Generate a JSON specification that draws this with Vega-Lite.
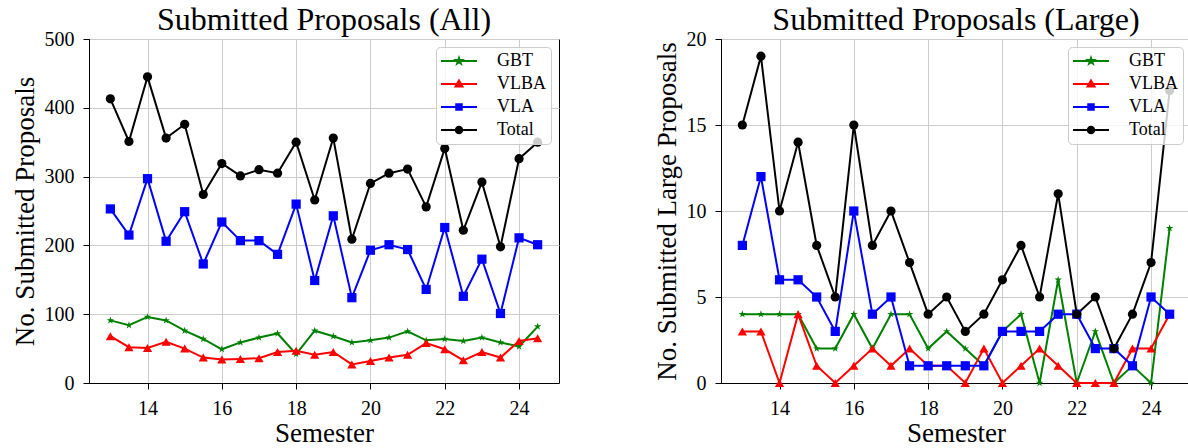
{
  "$schema": "https://vega.github.io/schema/vega-lite/v6.json",
  "background": "white",
  "padding": {"left": 10, "top": 3, "right": 0, "bottom": 0},
  "spacing": 162,
  "bounds": "flush",
  "datasets": {
    "all": [
      {"semester":13,"series":"GBT","count":91},{"semester":13.5,"series":"GBT","count":84},{"semester":14,"series":"GBT","count":96},{"semester":14.5,"series":"GBT","count":91},{"semester":15,"series":"GBT","count":76},{"semester":15.5,"series":"GBT","count":64},{"semester":16,"series":"GBT","count":49},{"semester":16.5,"series":"GBT","count":59},{"semester":17,"series":"GBT","count":66},{"semester":17.5,"series":"GBT","count":72},{"semester":18,"series":"GBT","count":42},{"semester":18.5,"series":"GBT","count":76},{"semester":19,"series":"GBT","count":68},{"semester":19.5,"series":"GBT","count":59},{"semester":20,"series":"GBT","count":62},{"semester":20.5,"series":"GBT","count":66},{"semester":21,"series":"GBT","count":75},{"semester":21.5,"series":"GBT","count":62},{"semester":22,"series":"GBT","count":64},{"semester":22.5,"series":"GBT","count":61},{"semester":23,"series":"GBT","count":66},{"semester":23.5,"series":"GBT","count":59},{"semester":24,"series":"GBT","count":53},{"semester":24.5,"series":"GBT","count":82},
      {"semester":13,"series":"VLBA","count":68},{"semester":13.5,"series":"VLBA","count":52},{"semester":14,"series":"VLBA","count":51},{"semester":14.5,"series":"VLBA","count":60},{"semester":15,"series":"VLBA","count":50},{"semester":15.5,"series":"VLBA","count":37},{"semester":16,"series":"VLBA","count":34},{"semester":16.5,"series":"VLBA","count":35},{"semester":17,"series":"VLBA","count":36},{"semester":17.5,"series":"VLBA","count":45},{"semester":18,"series":"VLBA","count":47},{"semester":18.5,"series":"VLBA","count":41},{"semester":19,"series":"VLBA","count":45},{"semester":19.5,"series":"VLBA","count":27},{"semester":20,"series":"VLBA","count":32},{"semester":20.5,"series":"VLBA","count":37},{"semester":21,"series":"VLBA","count":41},{"semester":21.5,"series":"VLBA","count":58},{"semester":22,"series":"VLBA","count":49},{"semester":22.5,"series":"VLBA","count":33},{"semester":23,"series":"VLBA","count":45},{"semester":23.5,"series":"VLBA","count":37},{"semester":24,"series":"VLBA","count":61},{"semester":24.5,"series":"VLBA","count":65},
      {"semester":13,"series":"VLA","count":253},{"semester":13.5,"series":"VLA","count":215},{"semester":14,"series":"VLA","count":297},{"semester":14.5,"series":"VLA","count":206},{"semester":15,"series":"VLA","count":249},{"semester":15.5,"series":"VLA","count":173},{"semester":16,"series":"VLA","count":234},{"semester":16.5,"series":"VLA","count":207},{"semester":17,"series":"VLA","count":207},{"semester":17.5,"series":"VLA","count":187},{"semester":18,"series":"VLA","count":260},{"semester":18.5,"series":"VLA","count":149},{"semester":19,"series":"VLA","count":243},{"semester":19.5,"series":"VLA","count":124},{"semester":20,"series":"VLA","count":193},{"semester":20.5,"series":"VLA","count":201},{"semester":21,"series":"VLA","count":194},{"semester":21.5,"series":"VLA","count":136},{"semester":22,"series":"VLA","count":226},{"semester":22.5,"series":"VLA","count":126},{"semester":23,"series":"VLA","count":180},{"semester":23.5,"series":"VLA","count":101},{"semester":24,"series":"VLA","count":211},{"semester":24.5,"series":"VLA","count":201},
      {"semester":13,"series":"Total","count":413},{"semester":13.5,"series":"Total","count":351},{"semester":14,"series":"Total","count":445},{"semester":14.5,"series":"Total","count":356},{"semester":15,"series":"Total","count":376},{"semester":15.5,"series":"Total","count":274},{"semester":16,"series":"Total","count":319},{"semester":16.5,"series":"Total","count":301},{"semester":17,"series":"Total","count":310},{"semester":17.5,"series":"Total","count":305},{"semester":18,"series":"Total","count":350},{"semester":18.5,"series":"Total","count":266},{"semester":19,"series":"Total","count":356},{"semester":19.5,"series":"Total","count":209},{"semester":20,"series":"Total","count":290},{"semester":20.5,"series":"Total","count":305},{"semester":21,"series":"Total","count":311},{"semester":21.5,"series":"Total","count":256},{"semester":22,"series":"Total","count":341},{"semester":22.5,"series":"Total","count":222},{"semester":23,"series":"Total","count":292},{"semester":23.5,"series":"Total","count":198},{"semester":24,"series":"Total","count":326},{"semester":24.5,"series":"Total","count":350}
    ],
    "large": [
      {"semester":13,"series":"GBT","count":4},{"semester":13.5,"series":"GBT","count":4},{"semester":14,"series":"GBT","count":4},{"semester":14.5,"series":"GBT","count":4},{"semester":15,"series":"GBT","count":2},{"semester":15.5,"series":"GBT","count":2},{"semester":16,"series":"GBT","count":4},{"semester":16.5,"series":"GBT","count":2},{"semester":17,"series":"GBT","count":4},{"semester":17.5,"series":"GBT","count":4},{"semester":18,"series":"GBT","count":2},{"semester":18.5,"series":"GBT","count":3},{"semester":19,"series":"GBT","count":2},{"semester":19.5,"series":"GBT","count":1},{"semester":20,"series":"GBT","count":3},{"semester":20.5,"series":"GBT","count":4},{"semester":21,"series":"GBT","count":0},{"semester":21.5,"series":"GBT","count":6},{"semester":22,"series":"GBT","count":0},{"semester":22.5,"series":"GBT","count":3},{"semester":23,"series":"GBT","count":0},{"semester":23.5,"series":"GBT","count":1},{"semester":24,"series":"GBT","count":0},{"semester":24.5,"series":"GBT","count":9},
      {"semester":13,"series":"VLBA","count":3},{"semester":13.5,"series":"VLBA","count":3},{"semester":14,"series":"VLBA","count":0},{"semester":14.5,"series":"VLBA","count":4},{"semester":15,"series":"VLBA","count":1},{"semester":15.5,"series":"VLBA","count":0},{"semester":16,"series":"VLBA","count":1},{"semester":16.5,"series":"VLBA","count":2},{"semester":17,"series":"VLBA","count":1},{"semester":17.5,"series":"VLBA","count":2},{"semester":18,"series":"VLBA","count":1},{"semester":18.5,"series":"VLBA","count":1},{"semester":19,"series":"VLBA","count":0},{"semester":19.5,"series":"VLBA","count":2},{"semester":20,"series":"VLBA","count":0},{"semester":20.5,"series":"VLBA","count":1},{"semester":21,"series":"VLBA","count":2},{"semester":21.5,"series":"VLBA","count":1},{"semester":22,"series":"VLBA","count":0},{"semester":22.5,"series":"VLBA","count":0},{"semester":23,"series":"VLBA","count":0},{"semester":23.5,"series":"VLBA","count":2},{"semester":24,"series":"VLBA","count":2},{"semester":24.5,"series":"VLBA","count":4},
      {"semester":13,"series":"VLA","count":8},{"semester":13.5,"series":"VLA","count":12},{"semester":14,"series":"VLA","count":6},{"semester":14.5,"series":"VLA","count":6},{"semester":15,"series":"VLA","count":5},{"semester":15.5,"series":"VLA","count":3},{"semester":16,"series":"VLA","count":10},{"semester":16.5,"series":"VLA","count":4},{"semester":17,"series":"VLA","count":5},{"semester":17.5,"series":"VLA","count":1},{"semester":18,"series":"VLA","count":1},{"semester":18.5,"series":"VLA","count":1},{"semester":19,"series":"VLA","count":1},{"semester":19.5,"series":"VLA","count":1},{"semester":20,"series":"VLA","count":3},{"semester":20.5,"series":"VLA","count":3},{"semester":21,"series":"VLA","count":3},{"semester":21.5,"series":"VLA","count":4},{"semester":22,"series":"VLA","count":4},{"semester":22.5,"series":"VLA","count":2},{"semester":23,"series":"VLA","count":2},{"semester":23.5,"series":"VLA","count":1},{"semester":24,"series":"VLA","count":5},{"semester":24.5,"series":"VLA","count":4},
      {"semester":13,"series":"Total","count":15},{"semester":13.5,"series":"Total","count":19},{"semester":14,"series":"Total","count":10},{"semester":14.5,"series":"Total","count":14},{"semester":15,"series":"Total","count":8},{"semester":15.5,"series":"Total","count":5},{"semester":16,"series":"Total","count":15},{"semester":16.5,"series":"Total","count":8},{"semester":17,"series":"Total","count":10},{"semester":17.5,"series":"Total","count":7},{"semester":18,"series":"Total","count":4},{"semester":18.5,"series":"Total","count":5},{"semester":19,"series":"Total","count":3},{"semester":19.5,"series":"Total","count":4},{"semester":20,"series":"Total","count":6},{"semester":20.5,"series":"Total","count":8},{"semester":21,"series":"Total","count":5},{"semester":21.5,"series":"Total","count":11},{"semester":22,"series":"Total","count":4},{"semester":22.5,"series":"Total","count":5},{"semester":23,"series":"Total","count":2},{"semester":23.5,"series":"Total","count":4},{"semester":24,"series":"Total","count":7},{"semester":24.5,"series":"Total","count":17}
    ]
  },
  "hconcat": [
    {
      "data": {"name": "all"},
      "width": 470,
      "height": 344,
      "title": {"text": "Submitted Proposals (All)"},
      "encoding": {
        "x": {"field": "semester", "type": "quantitative", "scale": {"domain": [12.425, 25.075], "nice": false, "zero": false}, "axis": {"values": [14, 16, 18, 20, 22, 24], "title": "Semester"}},
        "y": {"field": "count", "type": "quantitative", "scale": {"domain": [0, 500], "nice": false}, "axis": {"values": [0, 100, 200, 300, 400, 500], "title": "No. Submitted Proposals"}},
        "color": {"field": "series", "type": "nominal", "scale": {"domain": ["GBT", "VLBA", "VLA", "Total"], "range": ["#008000", "#ff0000", "#0000ff", "#000000"]},
          "legend": {"title": null, "orient": "top-right", "offset": 8, "padding": 5, "cornerRadius": 4, "strokeColor": "#cccccc", "fillColor": "rgba(255,255,255,0.8)", "symbolSize": 100, "symbolOffset": 9, "labelOffset": 29, "rowPadding": 5, "labelFont": "Liberation Serif", "labelFontSize": 18, "labelColor": "#000000",
            "encode": {"symbols": {"update": {
              "shape": {"signal": "datum.value==='GBT'?'M-3.6,0H3.6M0,-0.6L0.135,-0.186L0.571,-0.185L0.218,0.071L0.353,0.485L0,0.23L-0.353,0.485L-0.218,0.071L-0.571,-0.185L-0.135,-0.186Z':datum.value==='VLBA'?'M-3.6,0H3.6M0,-0.7L0.7,0.5L-0.7,0.5Z':datum.value==='VLA'?'M-3.6,0H3.6M-0.55,-0.55H0.55V0.55H-0.55Z':'M-3.6,0H3.6M-0.65,0A0.65,0.65,0,1,0,0.65,0A0.65,0.65,0,1,0,-0.65,0Z'"},
              "fill": {"signal": "datum.value==='GBT'?'#008000':datum.value==='VLBA'?'#ff0000':datum.value==='VLA'?'#0000ff':'#000000'"},
              "stroke": {"signal": "datum.value==='GBT'?'#008000':datum.value==='VLBA'?'#ff0000':datum.value==='VLA'?'#0000ff':'#000000'"},
              "strokeWidth": {"value": 2},
              "opacity": {"value": 1}
            }}}
          }}
      },
      "layer": [
        {"mark": {"type": "line", "strokeWidth": 2}},
        {"mark": {"type": "point", "filled": true, "size": 85, "opacity": 1},
         "encoding": {"shape": {"field": "series", "type": "nominal",
           "scale": {"domain": ["Total", "VLA", "VLBA", "GBT"], "range": ["circle", "square", "triangle-up", "M0,-0.85L0.191,-0.263L0.808,-0.263L0.309,0.1L0.5,0.688L0,0.325L-0.5,0.688L-0.309,0.1L-0.808,-0.263L-0.191,-0.263Z"]},
           "legend": null}}
        }
      ]
    },
    {
      "data": {"name": "large"},
      "width": 470,
      "height": 344,
      "title": {"text": "Submitted Proposals (Large)"},
      "encoding": {
        "x": {"field": "semester", "type": "quantitative", "scale": {"domain": [12.425, 25.075], "nice": false, "zero": false}, "axis": {"values": [14, 16, 18, 20, 22, 24], "title": "Semester"}},
        "y": {"field": "count", "type": "quantitative", "scale": {"domain": [0, 20], "nice": false}, "axis": {"values": [0, 5, 10, 15, 20], "title": "No. Submitted Large Proposals"}},
        "color": {"field": "series", "type": "nominal", "scale": {"domain": ["GBT", "VLBA", "VLA", "Total"], "range": ["#008000", "#ff0000", "#0000ff", "#000000"]},
          "legend": {"title": null, "orient": "top-right", "offset": 8, "padding": 5, "cornerRadius": 4, "strokeColor": "#cccccc", "fillColor": "rgba(255,255,255,0.8)", "symbolSize": 100, "symbolOffset": 9, "labelOffset": 29, "rowPadding": 5, "labelFont": "Liberation Serif", "labelFontSize": 18, "labelColor": "#000000",
            "encode": {"symbols": {"update": {
              "shape": {"signal": "datum.value==='GBT'?'M-3.6,0H3.6M0,-0.6L0.135,-0.186L0.571,-0.185L0.218,0.071L0.353,0.485L0,0.23L-0.353,0.485L-0.218,0.071L-0.571,-0.185L-0.135,-0.186Z':datum.value==='VLBA'?'M-3.6,0H3.6M0,-0.7L0.7,0.5L-0.7,0.5Z':datum.value==='VLA'?'M-3.6,0H3.6M-0.55,-0.55H0.55V0.55H-0.55Z':'M-3.6,0H3.6M-0.65,0A0.65,0.65,0,1,0,0.65,0A0.65,0.65,0,1,0,-0.65,0Z'"},
              "fill": {"signal": "datum.value==='GBT'?'#008000':datum.value==='VLBA'?'#ff0000':datum.value==='VLA'?'#0000ff':'#000000'"},
              "stroke": {"signal": "datum.value==='GBT'?'#008000':datum.value==='VLBA'?'#ff0000':datum.value==='VLA'?'#0000ff':'#000000'"},
              "strokeWidth": {"value": 2},
              "opacity": {"value": 1}
            }}}
          }}
      },
      "layer": [
        {"mark": {"type": "line", "strokeWidth": 2}},
        {"mark": {"type": "point", "filled": true, "size": 85, "opacity": 1},
         "encoding": {"shape": {"field": "series", "type": "nominal",
           "scale": {"domain": ["Total", "VLA", "VLBA", "GBT"], "range": ["circle", "square", "triangle-up", "M0,-0.85L0.191,-0.263L0.808,-0.263L0.309,0.1L0.5,0.688L0,0.325L-0.5,0.688L-0.309,0.1L-0.808,-0.263L-0.191,-0.263Z"]},
           "legend": null}}
        }
      ]
    }
  ],
  "resolve": {"scale": {"color": "independent", "shape": "independent", "x": "independent", "y": "independent"}},
  "config": {
    "view": {"stroke": "#000000", "strokeWidth": 1},
    "title": {"font": "Liberation Serif", "fontSize": 32, "fontWeight": "normal", "color": "#000000", "offset": -8, "anchor": "middle"},
    "axis": {"labelFont": "Liberation Serif", "labelFontSize": 20, "labelColor": "#000000", "titleFont": "Liberation Serif", "titleFontSize": 27, "titleFontWeight": "normal", "titleColor": "#000000", "gridColor": "#cccccc", "gridWidth": 1, "domainColor": "#000000", "tickColor": "#000000", "tickSize": 6, "labelFlush": false, "labelOverlap": false},
    "axisX": {"labelPadding": 9, "titlePadding": 2},
    "axisY": {"labelPadding": 9, "titlePadding": 5}
  }
}
